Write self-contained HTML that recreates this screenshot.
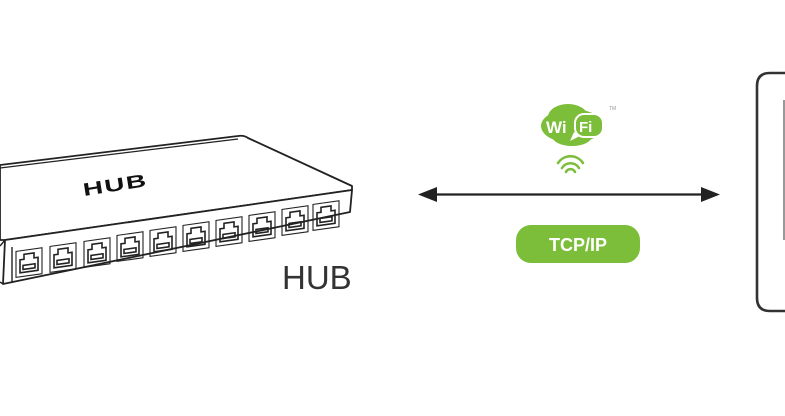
<!DOCTYPE html>
<html><head><meta charset="utf-8"><style>
html,body{margin:0;padding:0;background:#fff;width:785px;height:416px;overflow:hidden}
</style></head><body>
<svg width="785" height="416" viewBox="0 0 785 416" xmlns="http://www.w3.org/2000/svg">
<defs>
<g id="port">
<path d="M1,22 L1,9 L5,9 L5,4 L15,4 L15,9 L19,9 L19,22 Z M4,19 L4,15 L16,15 L16,19 Z" fill="none" stroke="#222" stroke-width="1.6"/>
<rect x="-3" y="0" width="26" height="26" fill="none" stroke="#222" stroke-width="1.1"/>
</g>
</defs>
<!-- hub top -->
<path d="M0,165 L238,136 Q244,135 248,138 L352,186 L352,190 L5,240 L0,240 Z" fill="#fff" stroke="#222" stroke-width="1.8" stroke-linejoin="round"/>
<path d="M0,168 L238,139" stroke="#222" stroke-width="1.2" fill="none"/>
<!-- front face -->
<path d="M5,240 L352,190 L350,212 L3,284 Z" fill="#fff" stroke="#222" stroke-width="1.8" stroke-linejoin="round"/>
<path d="M12,247 L12,283" stroke="#222" stroke-width="1.4"/>
<path d="M0,246 L5,240 M0,282 L3,284" stroke="#222" stroke-width="1.4"/>
<text x="0" y="0" transform="translate(84,196) rotate(-9) scale(1.55,1)" font-family="Liberation Sans, sans-serif" font-weight="900" font-size="18" fill="#111" letter-spacing="1">HUB</text>
<g>
<use href="#port" transform="translate(19,251) skewY(-8)"/>
<use href="#port" transform="translate(53,246) skewY(-8)"/>
<use href="#port" transform="translate(87,241) skewY(-8)"/>
<use href="#port" transform="translate(120,235) skewY(-8)"/>
<use href="#port" transform="translate(153,230) skewY(-8)"/>
<use href="#port" transform="translate(186,225) skewY(-8)"/>
<use href="#port" transform="translate(219,220) skewY(-8)"/>
<use href="#port" transform="translate(252,215) skewY(-8)"/>
<use href="#port" transform="translate(285,209) skewY(-8)"/>
<use href="#port" transform="translate(316,204) skewY(-8)"/>
</g>
<text x="282" y="289" font-family="Liberation Sans, sans-serif" font-size="33" fill="#333" font-weight="300">HUB</text>
<!-- arrow -->
<line x1="432" y1="194.5" x2="706" y2="194.5" stroke="#222" stroke-width="2.2"/>
<path d="M418,194.5 L437,187 L437,202 Z" fill="#222"/>
<path d="M720,194.5 L701,187 L701,202 Z" fill="#222"/>
<!-- wifi -->
<g fill="#7cbd3a">
<ellipse cx="572" cy="126" rx="31" ry="17"/>
<ellipse cx="568" cy="117" rx="20" ry="13"/>
<ellipse cx="572" cy="136" rx="20" ry="10"/>
</g>
<rect x="574" y="113" width="30" height="25" rx="10" fill="#fff"/>
<rect x="576" y="115" width="26" height="21" rx="8" fill="#7cbd3a"/>
<path d="M574,132 L570,141 L580,136 Z" fill="#fff"/>
<text x="546" y="133" font-family="Liberation Sans, sans-serif" font-weight="bold" font-size="17" fill="#fff">Wi</text>
<text x="579" y="132" font-family="Liberation Sans, sans-serif" font-weight="bold" font-size="15" fill="#fff">Fi</text>
<text x="609" y="110" font-family="Liberation Sans, sans-serif" font-size="5" fill="#999">TM</text>
<g fill="none" stroke="#7cbd3a" stroke-width="2.5" stroke-linecap="round">
<path d="M566,172 A5,5 0 0 1 575,172"/>
<path d="M562,168 A10,10 0 0 1 579,168"/>
<path d="M558,163 A15,15 0 0 1 583,163"/>
</g>
<!-- tcp pill -->
<rect x="516" y="225" width="124" height="38" rx="15" fill="#7cbd3a"/>
<text x="578" y="251" text-anchor="middle" font-family="Liberation Sans, sans-serif" font-weight="bold" font-size="18" fill="#fff">TCP/IP</text>
<!-- device -->
<path d="M790,311 L770,311 Q757,311 757,298 L757,86 Q757,73 770,73 L790,73" fill="none" stroke="#333" stroke-width="2.6"/>
<line x1="784" y1="100" x2="784" y2="240" stroke="#555" stroke-width="1.2"/>
</svg>
</body></html>
